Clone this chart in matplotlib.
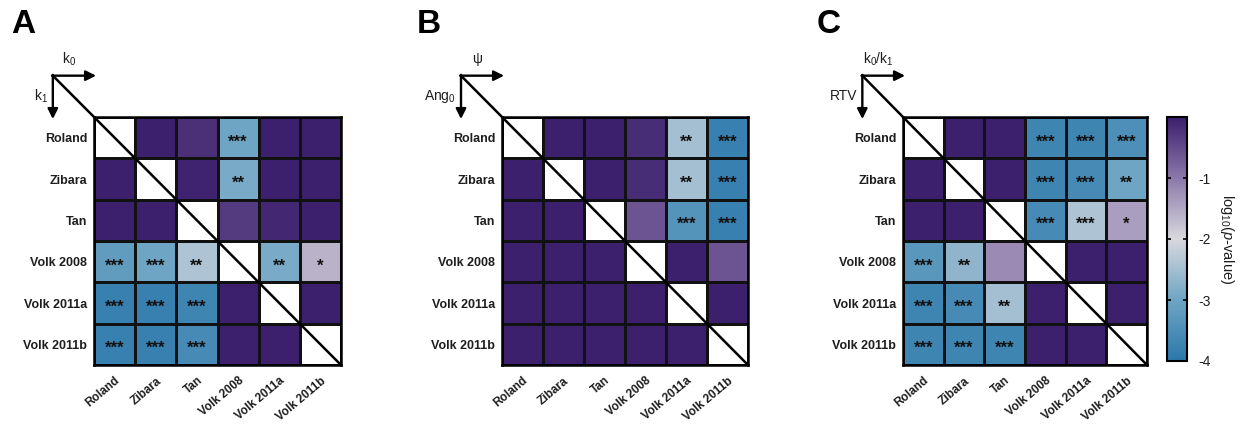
import numpy as np
import matplotlib
matplotlib.use("Agg")
import matplotlib.pyplot as plt
from matplotlib.colors import LinearSegmentedColormap, Normalize

plt.rcParams['font.family'] = ['Liberation Sans', 'DejaVu Sans']
plt.rcParams['mathtext.fontset'] = 'custom'
plt.rcParams['mathtext.rm'] = 'Liberation Sans'
plt.rcParams['mathtext.it'] = 'Liberation Sans:italic'

studies = ['Roland', 'Zibara', 'Tan', 'Volk 2008', 'Volk 2011a', 'Volk 2011b']

# log10(p-value); upper triangle = first parameter, lower = second
logp_a = [
    [np.nan, 0.0, -0.2, -3.0, 0.0, 0.0],
    [0.0, np.nan, -0.05, -2.9, 0.0, 0.0],
    [0.0, 0.0, np.nan, -0.3, -0.1, 0.0],
    [-3.2, -3.0, -2.4, np.nan, -2.9, -1.6],
    [-3.8, -3.8, -3.7, 0.0, np.nan, 0.0],
    [-3.8, -3.8, -3.6, 0.0, 0.0, np.nan],
]
stars_a = [
    ['', '', '', '***', '', ''],
    ['', '', '', '**', '', ''],
    ['', '', '', '', '', ''],
    ['***', '***', '**', '', '**', '*'],
    ['***', '***', '***', '', '', ''],
    ['***', '***', '***', '', '', ''],
]

logp_b = [
    [np.nan, 0.0, 0.0, -0.15, -2.5, -3.8],
    [0.0, np.nan, 0.0, -0.15, -2.5, -3.8],
    [0.0, 0.0, np.nan, -0.6, -3.4, -3.8],
    [0.0, 0.0, 0.0, np.nan, 0.0, -0.6],
    [0.0, 0.0, 0.0, 0.0, np.nan, 0.0],
    [0.0, 0.0, 0.0, 0.0, 0.0, np.nan],
]
stars_b = [
    ['', '', '', '', '**', '***'],
    ['', '', '', '', '**', '***'],
    ['', '', '', '', '***', '***'],
    ['', '', '', '', '', ''],
    ['', '', '', '', '', ''],
    ['', '', '', '', '', ''],
]

logp_c = [
    [np.nan, 0.0, 0.0, -3.7, -3.7, -3.5],
    [0.0, np.nan, 0.0, -3.7, -3.6, -3.0],
    [0.0, 0.0, np.nan, -3.6, -2.4, -1.4],
    [-3.3, -2.7, -1.2, np.nan, 0.0, 0.0],
    [-3.7, -3.6, -2.5, 0.0, np.nan, 0.0],
    [-3.7, -3.7, -3.7, 0.0, 0.0, np.nan],
]
stars_c = [
    ['', '', '', '***', '***', '***'],
    ['', '', '', '***', '***', '**'],
    ['', '', '', '***', '***', '*'],
    ['***', '**', '', '', '', ''],
    ['***', '***', '**', '', '', ''],
    ['***', '***', '***', '', '', ''],
]

panels = ['A', 'B', 'C']
axis_pairs = [(r'$\mathregular{k_0}$', r'$\mathregular{k_1}$'),
              (r'$\mathregular{\psi}$', r'$\mathregular{Ang_0}$'),
              (r'$\mathregular{k_0/k_1}$', 'RTV')]
cbar_ticks = [-1, -2, -3, -4]

cmap = LinearSegmentedColormap.from_list('pv', [
    (0.0, '#2b78ab'),
    (0.25, '#6fa5c4'),
    (0.5, '#d8d8de'),
    (0.75, '#8b78aa'),
    (1.0, '#3c1f6d'),
])
cmap.set_bad('white')
norm = Normalize(vmin=-4, vmax=0)

W, H = 1238, 425
fig = plt.figure(figsize=(W / 100, H / 100), dpi=100)


def px_axes(x0, y0, x1, y1):
    return fig.add_axes([x0 / W, 1 - y1 / H, (x1 - x0) / W, (y1 - y0) / H])


boxes = [(94, 117, 341, 365), (502, 117, 748, 365), (903, 117, 1147, 365)]
letters_x = [11, 417, 817]
txt = '#1e1e1e'

for k, (data, stars) in enumerate([(logp_a, stars_a), (logp_b, stars_b), (logp_c, stars_c)]):
    ax = px_axes(*boxes[k])
    vals = np.ma.masked_invalid(np.array(data))
    mesh = ax.pcolormesh(vals, cmap=cmap, norm=norm, edgecolors='#111111', linewidth=1.0)
    ax.set_xlim(0, 6)
    ax.set_ylim(6, 0)
    for sp in ax.spines.values():
        sp.set_linewidth(1.8)
    n = len(studies)
    ax.set_xticks(np.arange(n) + 0.5)
    ax.set_yticks(np.arange(n) + 0.5)
    ax.set_xticklabels(studies, rotation=40, ha='right', rotation_mode='anchor',
                       fontsize=8.5, fontweight='bold', color=txt)
    ax.set_yticklabels(studies, fontsize=9, fontweight='bold', color=txt)
    ax.tick_params(length=0, pad=5)
    ax.tick_params(axis='x', pad=7)

    for i in range(n):
        for j in range(n):
            if stars[i][j]:
                ax.text(j + 0.5, i + 0.6, stars[i][j], ha='center', va='center',
                        fontsize=12, fontweight='bold', color='#111111')

    # diagonal and parameter arrows
    ax.plot([-1, 6], [-1, 6], color='black', lw=1.8, clip_on=False,
            solid_capstyle='butt')
    ax.annotate('', xy=(0.05, -1), xytext=(-1.02, -1), annotation_clip=False,
                arrowprops=dict(arrowstyle='-|>', color='black', lw=1.7,
                                mutation_scale=15, shrinkA=0, shrinkB=0))
    ax.annotate('', xy=(-1, 0.05), xytext=(-1, -1.02), annotation_clip=False,
                arrowprops=dict(arrowstyle='-|>', color='black', lw=1.7,
                                mutation_scale=15, shrinkA=0, shrinkB=0))
    top_lab, left_lab = axis_pairs[k]
    ax.text(-0.6, -1.18, top_lab, ha='center', va='bottom', fontsize=10,
            color=txt, clip_on=False)
    ax.text(-1.12, -0.5, left_lab, ha='right', va='center', fontsize=10,
            color=txt, clip_on=False)

    fig.text(letters_x[k] / W, 1 - 9 / H, panels[k], ha='left', va='top',
             fontsize=24, fontweight='bold')

cax = px_axes(1167, 117, 1187, 361)
cb = fig.colorbar(mesh, cax=cax, ticks=cbar_ticks)
cb.outline.set_linewidth(1.5)
cb.ax.tick_params(direction='in', left=True, right=True, length=3, width=1.2,
                  labelsize=10, pad=8, labelcolor=txt)
cb.ax.set_yticklabels(['-1', '-2', '-3', '-4'])
cb.set_label(r'log$_{10}$($p$-value)', rotation=270, labelpad=18, fontsize=10.5,
             color=txt)

fig.savefig('out.png', dpi=100)
